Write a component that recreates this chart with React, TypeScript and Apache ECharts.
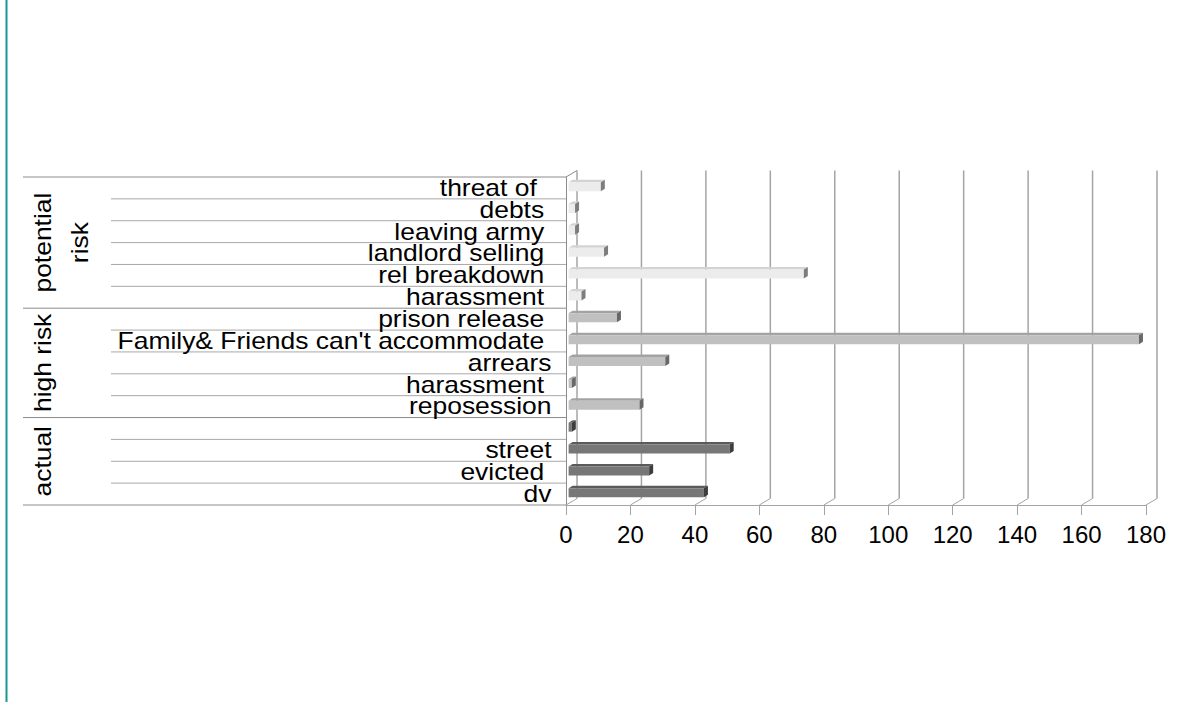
import { useEffect, useRef } from "react";
import * as echarts from "echarts";

// Reasons recorded, top to bottom, grouped by how acute the housing risk is.
// Trailing spaces are part of the recorded labels and shift them left.
const categories = [
  "threat of  ",
  "debts ",
  "leaving army ",
  "landlord selling ",
  "rel breakdown ",
  "harassment ",
  "prison release ",
  "Family& Friends can't accommodate ",
  "arrears",
  "harassment ",
  "reposession",
  "",
  "street",
  "evicted ",
  "dv",
];
const counts = [10, 2, 2, 11, 73, 4, 15, 177, 30, 1, 22, 1, 50, 25, 42];
const groupLabels = ["potential\nrisk", "high risk", "actual"];
const groupSizes = [6, 5, 4];
const axisMin = 0;
const axisMax = 180;
const axisStep = 20;

const FONT = '"Liberation Sans", Arial, Helvetica, sans-serif';
const LABEL_SIZE = 23;
const LABEL_STRETCH = 1.15;
const SPACE_W = 0.278 * LABEL_SIZE * LABEL_STRETCH;

// pseudo-3D depth of the plot floor / back wall
const WALL_DX = 11;
const WALL_DY = 6.5;
// bar placement inside that depth
const BAR_OFF_X = 2.6;
const BAR_DX = 4;
const BAR_DY = 2.5;
const BAR_TOP = -5.8;
const BAR_BOTTOM = 3.2;

const TABLE_LEFT = 23;
const SUBTABLE_LEFT = 111;
const LABEL_GAP = 14.5;
const GROUP_X = 43;
const GROUP_LINE = 37.5;

const shades = [
  { front: "#ececec", top: "#d3d3d3", side: "#7d7d7d" },
  { front: "#c0c0c0", top: "#a3a3a3", side: "#686868" },
  { front: "#777777", top: "#5b5b5b", side: "#3d3d3d" },
];

const groupOf: number[] = [];
const groupStart: number[] = [];
groupSizes.forEach((n, g) => {
  groupStart.push(groupOf.length);
  for (let i = 0; i < n; i++) groupOf.push(g);
});

const seg = (x1: number, y1: number, x2: number, y2: number, stroke: string, lineWidth = 1) => ({
  type: "line",
  shape: { x1, y1, x2, y2 },
  style: { stroke, lineWidth },
});

function renderWalls(params: any, api: any) {
  const cs = params.coordSys;
  const top = cs.y;
  const bottom = cs.y + cs.height;
  const x0 = api.coord([axisMin, 0])[0];
  const children: any[] = [seg(x0, top, x0 + WALL_DX, top - WALL_DY, "#8c8c8c")];
  for (let v = axisMin; v <= axisMax; v += axisStep) {
    const x = api.coord([v, 0])[0];
    children.push(seg(x + WALL_DX, top - WALL_DY, x + WALL_DX, bottom - WALL_DY, "#a4a4a4", 1.5));
    children.push(seg(x, bottom, x + WALL_DX, bottom - WALL_DY, "#a4a4a4"));
  }
  return { type: "group", children };
}

function renderTable(params: any, api: any) {
  const idx = api.value(1);
  const [axisX, c] = api.coord([axisMin, idx]);
  const h = api.size([0, 1])[1];
  const g = groupOf[idx];
  const last = groupStart[g] + groupSizes[g] - 1;
  const children: any[] = [];
  if (idx === 0) children.push(seg(TABLE_LEFT, c - h / 2, axisX, c - h / 2, "#8c8c8c"));
  const groupEnd = idx === last;
  children.push(
    seg(groupEnd ? TABLE_LEFT : SUBTABLE_LEFT, c + h / 2, axisX, c + h / 2, groupEnd ? "#8c8c8c" : "#a8a8a8")
  );
  const raw = categories[idx];
  const text = raw.replace(/\s+$/, "");
  const trailing = raw.length - text.length;
  if (text) {
    children.push({
      type: "text",
      x: axisX - LABEL_GAP - trailing * SPACE_W,
      y: c,
      scaleX: LABEL_STRETCH,
      style: {
        text,
        fontFamily: FONT,
        fontSize: LABEL_SIZE,
        fill: "#000",
        align: "right",
        verticalAlign: "middle",
      },
    });
  }
  if (idx === groupStart[g]) {
    const yc = (c + api.coord([axisMin, last])[1]) / 2;
    const lines = groupLabels[g].split("\n").length;
    children.push({
      type: "text",
      x: GROUP_X + ((lines - 1) * GROUP_LINE) / 2,
      y: yc,
      rotation: Math.PI / 2,
      scaleX: LABEL_STRETCH,
      style: {
        text: groupLabels[g],
        fontFamily: FONT,
        fontSize: LABEL_SIZE,
        lineHeight: GROUP_LINE,
        fill: "#000",
        align: "center",
        verticalAlign: "middle",
      },
    });
  }
  return { type: "group", children };
}

function renderBar(params: any, api: any) {
  const v = api.value(0);
  const idx = api.value(1);
  const [x0, c] = api.coord([axisMin, idx]);
  const x1 = api.coord([v, idx])[0];
  const left = x0 + BAR_OFF_X;
  const right = x1 + BAR_OFF_X;
  const top = c + BAR_TOP;
  const bottom = c + BAR_BOTTOM;
  const s = shades[groupOf[idx]];
  return {
    type: "group",
    children: [
      {
        type: "polygon",
        shape: { points: [[left, top], [right, top], [right + BAR_DX, top - BAR_DY], [left + BAR_DX, top - BAR_DY]] },
        style: { fill: s.top },
      },
      {
        type: "rect",
        shape: { x: left, y: top, width: right - left, height: bottom - top },
        style: { fill: s.front },
      },
      {
        type: "polygon",
        shape: {
          points: [[right, top], [right + BAR_DX, top - BAR_DY], [right + BAR_DX, bottom - BAR_DY], [right, bottom]],
        },
        style: { fill: s.side },
      },
    ],
  };
}

export default function App() {
  const ref = useRef<HTMLDivElement>(null);

  useEffect(() => {
    if (!ref.current) return;
    const chart = echarts.init(ref.current, null, { renderer: "svg" });
    chart.setOption({
      animation: false,
      backgroundColor: "#ffffff",
      grid: { left: 566, right: 40, top: 177, bottom: 197, containLabel: false, outerBoundsMode: "none" },
      xAxis: {
        type: "value",
        min: axisMin,
        max: axisMax,
        interval: axisStep,
        axisLine: { show: true, lineStyle: { color: "#a4a4a4", width: 1 } },
        axisTick: { show: true, length: 10, lineStyle: { color: "#a4a4a4" } },
        axisLabel: { color: "#000", fontSize: 24, fontFamily: FONT, margin: 17 },
        splitLine: { show: false },
      },
      yAxis: {
        type: "category",
        inverse: true,
        data: categories,
        axisLine: { show: true, lineStyle: { color: "#8c8c8c", width: 1 } },
        axisTick: { show: false },
        axisLabel: { show: false },
        splitLine: { show: false },
      },
      graphic: [
        {
          type: "line",
          shape: { x1: 6.5, y1: 0, x2: 6.5, y2: 702 },
          style: { stroke: "#169696", lineWidth: 2 },
        },
      ],
      series: [
        {
          type: "custom",
          name: "walls",
          z: 1,
          silent: true,
          renderItem: renderWalls,
          data: [[axisMin, 0]],
          encode: { x: 0, y: 1 },
        },
        {
          type: "custom",
          name: "table",
          z: 2,
          silent: true,
          renderItem: renderTable,
          data: categories.map((_, i) => [axisMin, i]),
          encode: { x: 0, y: 1 },
        },
        {
          type: "custom",
          name: "count",
          z: 3,
          renderItem: renderBar,
          data: counts.map((v, i) => [v, i]),
          encode: { x: 0, y: 1 },
        },
      ],
    });
    return () => chart.dispose();
  }, []);

  return (
    <div
      ref={ref}
      style={{ position: "absolute", left: 0, top: 0, width: 1186, height: 702, background: "#fff" }}
    />
  );
}
